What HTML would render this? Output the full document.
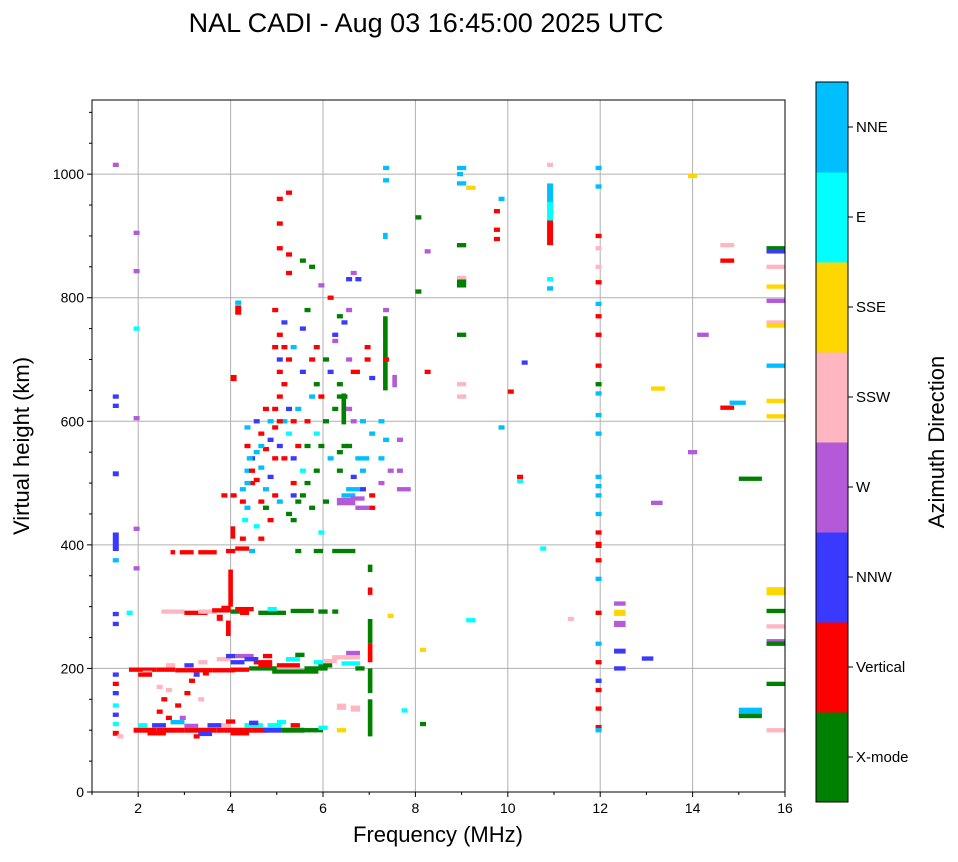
<!DOCTYPE html>
<html><head><meta charset="utf-8"><style>
body{margin:0;background:#fff;}
svg text{font-family:"Liberation Sans","DejaVu Sans",sans-serif;}
</style></head><body>
<svg id="chart" width="958" height="857" viewBox="0 0 958 857" xmlns="http://www.w3.org/2000/svg">
<text x="426" y="32" font-size="27" text-anchor="middle">NAL CADI - Aug 03 16:45:00 2025 UTC</text>
<g id="grid"></g>
<g id="marks"></g>
<rect x="92" y="100" width="693" height="692" fill="none" stroke="#000" stroke-width="1"/>
<g id="axes"></g>
<text x="438" y="842" font-size="22" text-anchor="middle">Frequency (MHz)</text>
<text transform="translate(29,446) rotate(-90)" font-size="22" text-anchor="middle">Virtual height (km)</text>
<g id="colorbar"></g>
<text transform="translate(944,442) rotate(-90)" font-size="22" text-anchor="middle">Azimuth Direction</text>
</svg>
<script>
const directionNames = ["X-mode","Vertical","NNW","W","SSW","SSE","E","NNE"];
const directionColors = ["#008000","#ff0000","#3a3aff","#b45ad8","#ffb6c1","#ffd700","#00ffff","#00bfff"];
const xTicks = [2,4,6,8,10,12,14,16];
const yTicks = [0,200,400,600,800,1000];
// echoes: [frequency MHz, height km, direction index, width MHz, height span km]
const echoes = [
[1.45,95,1,0.13,8],[1.55,90,4],[1.45,110,6],[1.45,125,2],[1.45,140,6],[1.45,160,2],[1.45,175,1],[1.45,190,2],
[1.9,100,1,0.5,8],[2.0,108,6,0.2],[2.3,108,2,0.3],[2.4,100,1,0.6,8],[3.0,100,1,0.7,8],[3.0,107,3,0.3],[3.5,108,2,0.3],[3.7,100,1,0.6,8],[3.8,108,4,0.2],[4.3,100,1,0.5,8],[4.3,108,6,0.4],[4.7,100,2,0.4,8],[4.8,108,6,0.3],[5.1,100,0,0.5,8],[5.3,108,1,0.2],[5.6,100,0,0.4],[5.9,104,6,0.2],[6.3,100,5,0.2],[7.7,132,6],[8.1,110,0],
[2.2,95,1,0.4],[3.3,94,2,0.3],[4.0,95,1,0.4],[4.4,112,2,0.2],[5.0,113,6,0.2],[2.7,113,7,0.3],[3.9,114,1,0.2],
[2.4,130,1],[2.5,150,1],[2.6,165,4],[2.8,140,1],[2.9,120,3],[3.1,180,1],[3.2,90,1],[3.3,150,4],[2.6,120,1],[3.0,160,1],[2.4,170,4],[6.3,138,4,0.2,10],[6.6,135,4,0.2,10],
[1.8,198,1,0.6],[2.1,193,4,0.2],[2.4,198,1,0.4],[2.8,197,1,0.8],[3.0,205,2,0.2],[3.3,210,4,0.2],[3.6,197,1,0.5],[3.7,215,4,0.3],[4.0,198,1,0.4],[4.0,210,2,0.3],[4.1,220,3,0.4],[4.4,200,0,0.6],[4.5,210,1,0.4],[4.7,220,1,0.2],[4.9,195,0,1.0],[5.0,205,1,0.5],[5.2,215,6,0.3],[5.6,200,0,0.5],[5.9,205,0,0.3],[6.0,212,4,0.3],[6.2,218,4,0.6],[6.4,208,6,0.4],[6.7,200,0,0.2],[6.5,225,3,0.3],[3.2,190,2],[3.4,192,1],[2.0,190,1,0.3],[2.6,205,4,0.2],[3.9,220,2,0.2],[4.3,215,2,0.3],[5.4,222,0,0.2],[4.6,205,1,0.3],[5.8,210,6,0.2],
[2.5,292,4,0.3],[2.8,292,4,0.2],[3.0,290,1,0.5],[3.3,292,4,0.4],[3.6,294,1,0.4],[3.7,282,1,0.13,10],[3.8,298,1,0.2],[4.0,292,0,0.2],[4.1,296,1,0.4],[4.2,290,1,0.2],[4.6,290,0,0.6],[5.3,293,0,0.5],[5.9,292,0,0.2],[6.2,292,0,0.13],[4.8,296,6,0.2],
[2.7,388,1,0.1],[2.9,388,1,0.3],[3.3,388,1,0.4],[3.9,390,1,0.2],[4.1,394,1,0.3],[5.4,390,0],[5.8,390,0,0.2],[6.2,390,0,0.5],
[6.97,120,0,0.1,60],[6.97,180,0,0.1,40],[6.97,225,1,0.1,30],[6.97,260,0,0.1,40],[6.97,325,1,0.1,12],[6.97,362,0,0.1,12],
[3.9,265,1,0.1,25],[3.95,330,1,0.1,60],[4.0,420,1,0.1,20],[4.0,480,1],[4.0,670,1,0.13,10],[4.1,780,1,0.13,15],[4.1,792,7],[3.8,480,1],
[4.2,410,1],[4.25,440,6],[4.2,470,1],[4.3,460,7],[4.2,490,7],[4.4,500,1],[4.3,520,7],[4.4,540,2],[4.5,550,7],[4.3,560,1],[4.6,580,1],[4.5,600,2],[4.7,620,1],[4.8,600,7],[4.6,470,1],[4.7,490,7],[4.8,510,2],[4.9,480,1],[4.5,430,6],[4.6,410,1],[4.4,390,7],[4.9,540,1],[5.0,560,2],[4.9,590,1],[5.1,600,7],[5.0,640,1],[5.2,620,2],[5.0,680,1],[4.9,720,1],[5.0,740,1],[5.1,760,2],[4.9,780,1],[5.2,700,1],[5.3,720,7],[5.1,660,1],[5.2,580,6],[5.4,560,1],[5.3,540,2],[5.5,520,6],[5.3,500,1],[5.4,470,0],[5.2,450,0],[5.3,440,0],[5.5,480,0],[5.6,500,0],[5.8,520,0],[5.7,460,0],[5.9,420,6],[6.0,470,0],[5.6,560,0],[5.8,580,6],[6.0,600,0],[6.2,620,0],[6.3,640,0],[6.3,660,0],[6.1,680,2],[6.0,700,0],[5.8,720,1],[6.2,740,2],[6.4,760,2],[6.5,780,3],[6.1,800,1],[5.9,820,3],[5.7,850,0],[5.5,860,0],[5.2,870,1],[5.2,840,1],[5.0,880,1],[5.0,920,1],[5.2,970,1],[5.0,960,1],[5.5,750,2],[5.6,780,0],
[4.3,500,7],[4.4,520,1],[4.5,505,1],[4.35,540,7],[4.6,525,7],[4.7,555,1],[4.8,570,2],[4.3,590,7],[4.6,560,7],[4.9,620,1],[5.0,600,1],[5.0,700,2],[5.1,720,1],[5.3,600,1],[5.4,620,7],[5.1,540,1],[5.3,480,2],[5.0,470,7],[4.8,440,1],[4.7,460,0],[5.6,600,1],[5.7,640,7],[5.5,680,2],[5.7,700,1],[5.8,660,0],[5.9,560,0],[6.1,540,7],[5.9,640,1],
[6.3,470,3,0.4,12],[6.4,480,7,0.3],[6.6,475,3,0.3],[6.8,490,2],[6.6,510,2],[6.7,540,7,0.3],[6.5,560,0],[6.6,600,3],[6.5,620,3],[6.8,600,7],[7.0,580,7],[7.2,600,7],[7.3,570,7],[7.2,540,7],[7.4,520,3],[7.2,500,3],[7.6,490,3,0.3],[7.6,520,3],[7.6,570,3],[7.0,460,1],[7.0,480,1],[6.6,680,1,0.2],[6.5,700,3],[6.9,700,1],[6.9,720,1],[7.0,670,2],[7.3,710,0,0.1,120],[7.3,700,1],[7.3,780,3],[7.5,665,3,0.1,20],[6.4,560,0],[6.4,620,0,0.1,50],[6.3,520,0],[6.3,550,0],[6.5,830,2],[6.6,840,3],[6.7,830,2],[6.3,770,0],[6.4,640,0],[6.2,730,3],[6.7,460,3,0.3],[6.5,490,7,0.3],[6.8,520,7],
[7.3,1010,7],[7.3,990,7],[7.3,900,7,0.1,10],[8.0,930,0],[8.0,810,0],[8.2,680,1],[8.2,875,3],[8.1,230,5],[7.4,285,5],
[8.9,1010,7,0.2],[8.9,1000,7],[8.9,985,7,0.2],[9.1,978,5,0.2],[8.9,885,0,0.2],[8.9,832,4,0.2],[8.9,826,0,0.2],[8.9,820,0,0.2],[8.9,740,0,0.2],[8.9,660,4,0.2],[8.9,640,4,0.2],[9.1,278,6,0.2],
[9.7,940,1],[9.7,910,1],[9.8,960,7],[9.7,895,1],[10.0,648,1],[9.8,590,7],[10.3,695,2],[10.2,510,1],[10.2,503,6],[10.7,394,6],
[10.85,1015,4],[10.85,970,7,0.13,30],[10.85,940,6,0.13,30],[10.85,905,1,0.13,40],[10.85,830,6],[10.85,815,7],[11.3,280,4],
[11.9,1010,7],[11.9,980,7],[11.9,900,1],[11.9,880,4],[11.9,850,4],[11.9,825,1],[11.9,790,7],[11.9,770,1],[11.9,740,1],[11.9,690,1],[11.9,660,0],[11.9,645,7],[11.9,610,7],[11.9,580,7],[11.9,510,7],[11.9,495,7],[11.9,480,7],[11.9,450,7],[11.9,420,1],[11.9,400,1,0.13,10],[11.9,375,1],[11.9,345,7],[11.9,290,1],[11.9,240,7],[11.9,210,1],[11.9,180,2],[11.9,165,1],[11.9,135,1],[11.9,105,1],[11.9,100,7],
[12.3,305,3,0.25],[12.3,290,5,0.25,10],[12.3,272,3,0.25,10],[12.3,228,2,0.25,8],[12.3,200,2,0.25],[12.9,216,2,0.25],[13.1,653,5,0.3],[13.1,468,3,0.25],[13.9,997,5,0.2],[13.9,550,3,0.2],[14.1,740,3,0.25],[14.6,885,4,0.3],[14.6,860,1,0.3],[14.6,622,1,0.3],[14.8,630,7,0.35],[15.0,507,0,0.5],[15.0,133,7,0.5],[15.0,128,7,0.5],[15.0,123,0,0.5],
[15.6,880,0,0.4],[15.6,875,2,0.4],[15.6,850,4,0.4],[15.6,818,5,0.4],[15.6,795,3,0.4],[15.6,760,4,0.4],[15.6,755,5,0.4],[15.6,690,7,0.4],[15.6,633,5,0.4],[15.6,608,5,0.4],[15.6,328,5,0.4],[15.6,322,5,0.4],[15.6,293,0,0.4],[15.6,268,4,0.4],[15.6,244,3,0.4],[15.6,240,0,0.4],[15.6,175,0,0.4],[15.6,100,4,0.4],
[1.45,1015,3],[1.45,640,2],[1.45,625,2],[1.45,515,2,0.13,8],[1.45,405,2,0.13,30],[1.45,375,7],[1.45,288,2],[1.45,272,2],[1.9,905,3],[1.9,843,3],[1.9,750,6],[1.9,605,3],[1.9,426,3],[1.9,362,3],[1.75,290,6]
];
const NS="http://www.w3.org/2000/svg";
const X0=92,X1=785,Y0=792,Y1=100,FMIN=1,FMAX=16,HMIN=0,HMAX=1120;
function xs(f){return X0+(f-FMIN)/(FMAX-FMIN)*(X1-X0);}
function ys(h){return Y0-(h-HMIN)/(HMAX-HMIN)*(Y0-Y1);}
function mk(t,a,p){const e=document.createElementNS(NS,t);for(const k in a)e.setAttribute(k,a[k]);p.appendChild(e);return e;}
const grid=document.getElementById('grid'),axes=document.getElementById('axes'),marks=document.getElementById('marks'),cb=document.getElementById('colorbar');
xTicks.forEach(v=>{const x=xs(v);
 const g=mk('line',{x1:x,x2:x,y1:Y1,y2:Y0,stroke:'#b0b0b0','stroke-width':1},grid);
 
 
 mk('line',{x1:x,x2:x,y1:Y0,y2:Y0+5,stroke:'#000'},axes);
 const t=mk('text',{x:x,y:Y0+21,'font-size':14,'text-anchor':'middle'},axes);t.textContent=v;
 
 
});
for(let v=1;v<=15;v+=2){const x=xs(v);mk('line',{x1:x,x2:x,y1:Y0,y2:Y0+3,stroke:'#000'},axes);}
yTicks.forEach(v=>{const y=ys(v);
 const g=mk('line',{x1:X0,x2:X1,y1:y,y2:y,stroke:'#b0b0b0','stroke-width':1},grid);
 
 
 mk('line',{x1:X0-5,x2:X0,y1:y,y2:y,stroke:'#000'},axes);
 const t=mk('text',{x:X0-8,y:y+5,'font-size':14,'text-anchor':'end'},axes);t.textContent=v;
 
 
});
for(let v=50;v<=1100;v+=50){if(v%200){const y=ys(v);mk('line',{x1:X0-3,x2:X0,y1:y,y2:y,stroke:'#000'},axes);}}
echoes.forEach(e=>{const f=e[0],h=e[1],c=e[2],df=e[3]||0.13,dh=e[4]||7;
 const x=xs(f),w=xs(f+df)-x,y=ys(h+dh/2),hh=ys(h-dh/2)-y;
 const r=mk('rect',{x:x,y:y,width:w,height:Math.max(hh,3),fill:directionColors[c]},marks);
 
 
});
const CX=816,CW=32,CT=82,CB=802,seg=(CB-CT)/directionNames.length;
directionNames.forEach((n,i)=>{const y=CB-(i+1)*seg;
 const r=mk('rect',{x:CX,y:y,width:CW,height:seg+0.5,fill:directionColors[i]},cb);
 
 
 mk('line',{x1:CX+CW,x2:CX+CW+5,y1:y+seg/2,y2:y+seg/2,stroke:'#000'},cb);
 const t=mk('text',{x:CX+CW+8,y:y+seg/2+5,'font-size':15},cb);t.textContent=n;
 
 
});
mk('rect',{x:CX,y:CT,width:CW,height:CB-CT,fill:'none',stroke:'#000'},cb);
</script>
</body></html>
